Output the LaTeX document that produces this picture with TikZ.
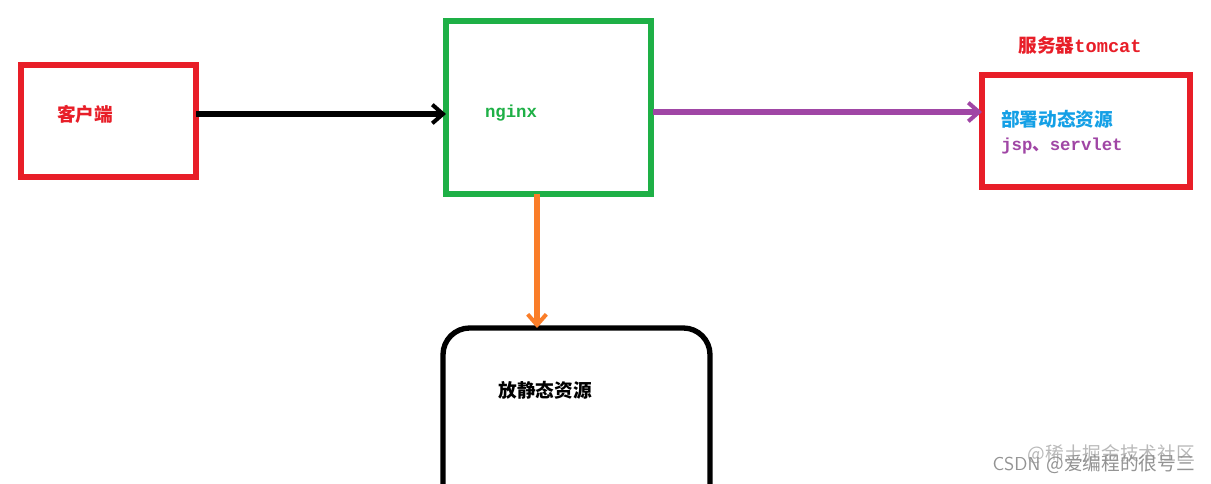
\documentclass[tikz,border=0pt]{standalone}
\usepackage{fontspec}
\setmonofont{Liberation Mono}
\newfontfamily\cjk{Noto Sans CJK SC}
\usetikzlibrary{arrows.meta}
\definecolor{myred}{RGB}{232,30,40}
\definecolor{mygreen}{RGB}{30,176,70}
\definecolor{mypurple}{RGB}{160,70,165}
\definecolor{myorange}{RGB}{250,125,40}
\definecolor{myblue}{RGB}{20,160,230}
\tikzset{box/.style={draw,line width=4pt,inner sep=0pt},
  lbl/.style={font=\cjk\bfseries\fontsize{14}{16}\selectfont,inner sep=0pt},
  code/.style={font=\ttfamily\bfseries\fontsize{13}{15}\selectfont,inner sep=0pt},
  conn/.style={line width=4pt,-{Straight Barb[length=8pt,width=14pt,line width=3pt]}}}
\begin{document}
\begin{tikzpicture}[x=0.75pt,y=-0.75pt]
\useasboundingbox[fill=white] (0,0) rectangle (1211,484);
\draw[box,myred] (21,65) rectangle (196,177);
\node[lbl,myred] (client) at (85,114) {客户端};
\coordinate (ce) at (196,114);
\draw[box,mygreen] (446,21) rectangle (651,194);
\coordinate (nw) at (446,114);
\coordinate (ne) at (653,112);
\coordinate (ns) at (537,194);
\node[code,mygreen] (nginx) at (511,113) {nginx};
\draw[box,myred] (982,75) rectangle (1190,187);
\coordinate (tw) at (982,112);
\node[lbl,myred] (tl) at (1080,45) {服务器\texttt{tomcat}};
\node[lbl,myblue,anchor=west] (dyn) at (1001,119) {部署动态资源};
\node[code,mypurple,anchor=west] (jsp) at (1001,146) {jsp{\cjk 、}servlet};
\draw[line width=4pt,rounded corners=20pt] (443,500) -- (443,328) -- (710,328) -- (710,500);
\coordinate (st) at (537,328);
\node[lbl,black] (static) at (545,390) {放静态资源};
\draw[conn,black] (ce) -- (nw);
\draw[conn,mypurple] (ne) -- (tw);
\draw[conn,myorange] (ns) -- (st);
\node[font=\cjk\fontsize{14}{16}\selectfont,gray!55,inner sep=0pt,anchor=east] (wm1) at (1195,454) {@稀土掘金技术社区};
\node[font=\fontsize{14}{16}\selectfont\sffamily,gray!85,inner sep=0pt,anchor=east] (wm2) at (1195,464) {CSDN {\cjk @爱编程的很号三}};
\end{tikzpicture}
\end{document}
